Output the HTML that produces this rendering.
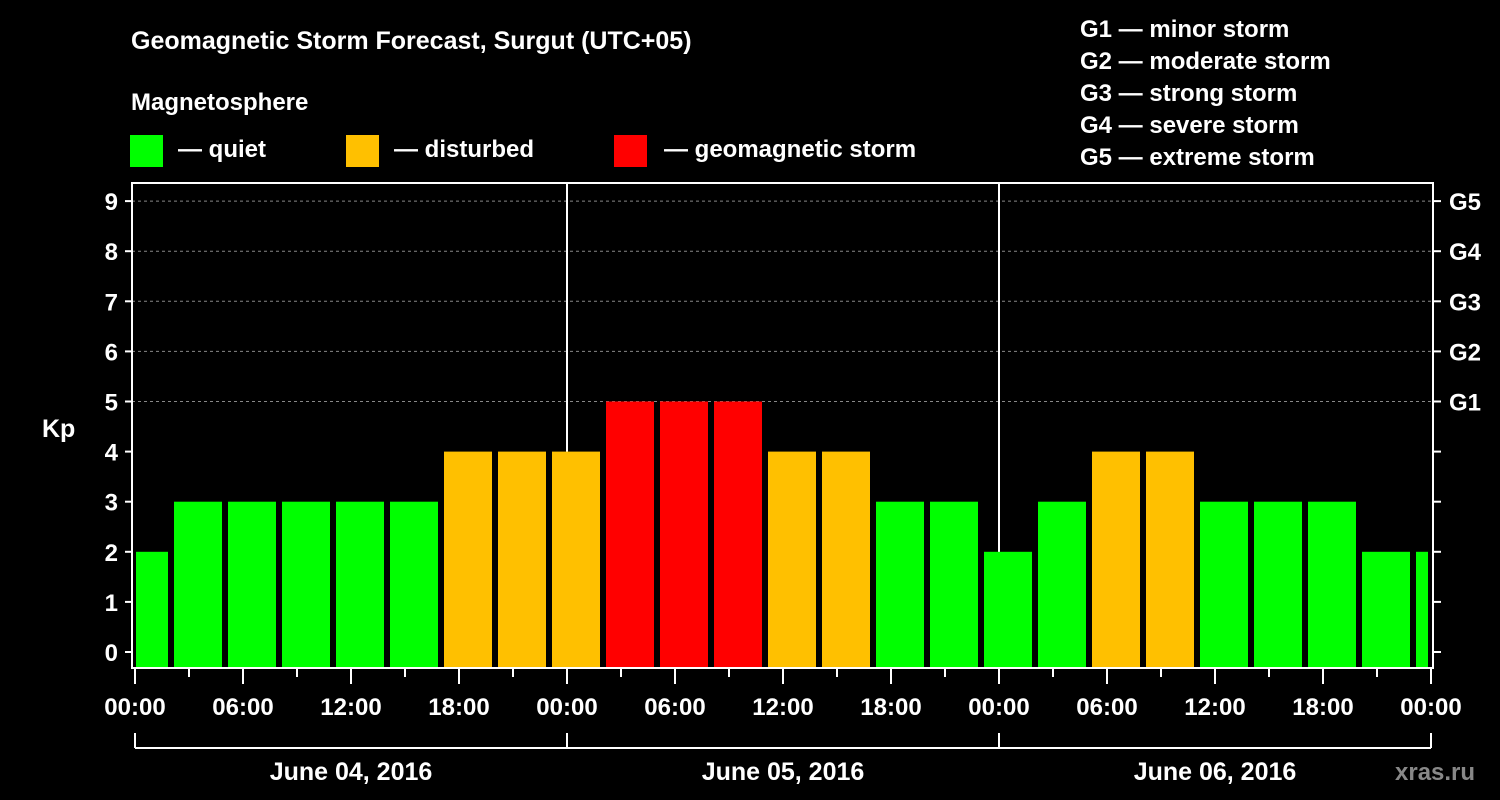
<!DOCTYPE html>
<html><head><meta charset="utf-8"><style>
html,body{margin:0;padding:0;background:#000;}
svg{display:block;font-family:"Liberation Sans",Arial,sans-serif;font-weight:bold;}
</style></head><body>
<svg id="chart" width="1500" height="800" viewBox="0 0 1500 800">
<rect width="1500" height="800" fill="#000"/>
<text x="131" y="49" fill="#fff" font-size="25">Geomagnetic Storm Forecast, Surgut (UTC+05)</text>
<text x="131" y="110" fill="#fff" font-size="24">Magnetosphere</text>
<g><rect x="130" y="135" width="33" height="32" fill="#00ff00"/><text x="178" y="157" fill="#fff" font-size="24">— quiet</text></g>
<g><rect x="346" y="135" width="33" height="32" fill="#ffc000"/><text x="394" y="157" fill="#fff" font-size="24">— disturbed</text></g>
<g><rect x="614" y="135" width="33" height="32" fill="#ff0000"/><text x="664" y="157" fill="#fff" font-size="24">— geomagnetic storm</text></g>
<g fill="#fff" font-size="24">
<text x="1080" y="37">G1 — minor storm</text>
<text x="1080" y="69">G2 — moderate storm</text>
<text x="1080" y="101">G3 — strong storm</text>
<text x="1080" y="133">G4 — severe storm</text>
<text x="1080" y="165">G5 — extreme storm</text>
</g>
<g id="grid"></g>
<g id="bars"></g>
<g id="axes"></g>
<text x="42" y="437" fill="#fff" font-size="25">Kp</text>
<text x="1395" y="780" fill="#888" font-size="24">xras.ru</text>
</svg>
<script>
const kpValues = [2,3,3,3,3,3,4,4,4,5,5,5,4,4,3,3,2,3,4,4,3,3,3,2,2];
const hourLabels = ["00:00","06:00","12:00","18:00","00:00","06:00","12:00","18:00","00:00","06:00","12:00","18:00","00:00"];
const dayLabels = ["June 04, 2016","June 05, 2016","June 06, 2016"];
const gLabels = ["G1","G2","G3","G4","G5"];
const yTicks = [0,1,2,3,4,5,6,7,8,9];
const firstBarHour = -0.8333;

const NS="http://www.w3.org/2000/svg";
const X0=135, PX_H=18, L=132, R=1433, T=183, B=668;
const x = h => X0 + h*PX_H;
const y = v => 652 - v*50.1;
function mk(tag, attrs, parent){const e=document.createElementNS(NS,tag);for(const k in attrs)e.setAttribute(k,attrs[k]);parent.appendChild(e);return e;}
const grid=document.getElementById('grid'), bars=document.getElementById('bars'), axes=document.getElementById('axes');
// gridlines
[5,6,7,8,9].forEach(v=>{
  const g=mk('line',{x1:L,x2:R,y1:y(v),y2:y(v),stroke:'#888','stroke-width':1,'stroke-dasharray':'3,3'},grid);
  
  
});
// day separators
[24,48].forEach(h=>{
  const d=mk('line',{x1:x(h),x2:x(h),y1:T,y2:B,stroke:'#fff','stroke-width':2},grid);
  
  
});
// bars
mk('clipPath',{id:'pc'},bars).appendChild(Object.assign(document.createElementNS(NS,'rect'),{}));
const cp=bars.querySelector('clipPath rect');cp.setAttribute('x',L+4);cp.setAttribute('y',T);cp.setAttribute('width',R-L-9);cp.setAttribute('height',B-T);
kpValues.forEach((v,i)=>{
  const h0=firstBarHour+i*3;
  const col=v>=5?'#ff0000':(v>=4?'#ffc000':'#00ff00');
  const b=mk('rect',{x:x(h0),y:y(v),width:3*PX_H-6,height:B-y(v),fill:col,'clip-path':'url(#pc)'},bars);
  
  
});
// frame
const fr=mk('rect',{x:L,y:T,width:R-L,height:B-T,fill:'none',stroke:'#fff','stroke-width':2},axes);


// y ticks
yTicks.forEach(v=>{
  mk('line',{x1:L-7,x2:L,y1:y(v),y2:y(v),stroke:'#fff','stroke-width':2},axes);
  mk('line',{x1:R,x2:R+8,y1:y(v),y2:y(v),stroke:'#fff','stroke-width':2},axes);
  const t=mk('text',{x:L-14,y:y(v)+9,fill:'#fff','font-size':24,'text-anchor':'end'},axes);
  t.textContent=v;
  
  
});
gLabels.forEach((g,i)=>{
  const t=mk('text',{x:R+16,y:y(5+i)+9,fill:'#fff','font-size':24},axes);
  t.textContent=g;
  
  
});
// x ticks
for(let h=0;h<=72;h+=3){
  const major=h%6===0;
  mk('line',{x1:x(h),x2:x(h),y1:B,y2:B+(major?16:9),stroke:'#fff','stroke-width':2},axes);
}
hourLabels.forEach((s,i)=>{
  const t=mk('text',{x:x(i*6),y:715,fill:'#fff','font-size':24,'text-anchor':'middle'},axes);
  t.textContent=s;
  
  
});
// day bracket
mk('line',{x1:x(0),x2:x(72),y1:748,y2:748,stroke:'#fff','stroke-width':2},axes);
[0,24,48,72].forEach(h=>mk('line',{x1:x(h),x2:x(h),y1:733,y2:748,stroke:'#fff','stroke-width':2},axes));
dayLabels.forEach((s,i)=>{
  const t=mk('text',{x:x(i*24+12),y:780,fill:'#fff','font-size':25,'text-anchor':'middle'},axes);
  t.textContent=s;
  
  
});
</script>
</body></html>
